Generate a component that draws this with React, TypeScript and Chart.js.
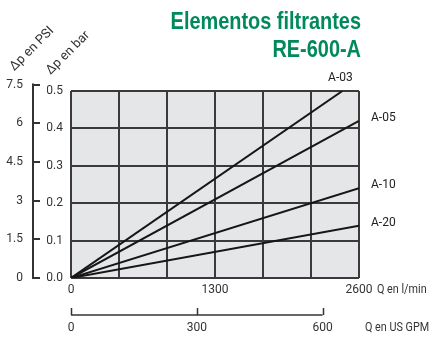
import React, { useEffect, useRef } from 'react';
import { Chart, registerables } from 'chart.js';

Chart.register(...registerables);

// ---- data ----
const seriesNames = ['A-03', 'A-05', 'A-10', 'A-20'];
const seriesStartFlow = [0, 0, 0, 0];
const seriesStartDp = [0, 0, 0, 0];
const seriesEndFlow = [2450, 2600, 2600, 2600]; // l/min
const seriesEndDp = [0.5, 0.42, 0.24, 0.14]; // bar

const flowGrid = [0, 433.33, 866.67, 1300, 1733.33, 2166.67, 2600];
const flowLabels = [0, 1300, 2600];
const gpmTicks = [0, 300, 600];
const barTicks = [0, 0.1, 0.2, 0.3, 0.4, 0.5];
const psiTicks = [0, 1.5, 3, 4.5, 6, 7.5];

const titleLines = ['Elementos filtrantes', 'RE-600-A'];
const flowUnit = 'Q en l/min';
const gpmUnit = 'Q en US GPM';
const psiTitle = 'Δp en PSI';
const barTitle = 'Δp en bar';

const LPM_PER_GPM = 3.78541;
const PSI_PER_BAR = 14.5;
const FLOW_MAX = 2600;
const BAR_MAX = 0.5;

const TEXT = '#333333';
const GRID = '#3a3a3c';
const GREEN = '#008a5c';
const FONT = 'Roboto, "Liberation Sans", sans-serif';

const decor = {
  id: 'decor',
  beforeDraw(chart: any) {
    const { ctx, chartArea: a } = chart;
    ctx.save();
    ctx.fillStyle = '#ffffff';
    ctx.fillRect(0, 0, chart.width, chart.height);
    ctx.fillStyle = '#e5e6e8';
    ctx.fillRect(a.left, a.top, a.right - a.left, a.bottom - a.top);
    ctx.restore();
  },
  afterDraw(chart: any) {
    const { ctx, chartArea: a } = chart;
    ctx.save();

    // Title (condensed bold look: Liberation Sans Bold squeezed horizontally)
    ctx.save();
    ctx.fillStyle = GREEN;
    ctx.font = 'bold 24px "Liberation Sans", Arial, sans-serif';
    ctx.textAlign = 'right';
    ctx.textBaseline = 'alphabetic';
    ctx.translate(a.right + 2, 0);
    ctx.scale(0.83, 1);
    ctx.fillText(titleLines[0], 0, 29);
    ctx.fillText(titleLines[1], 0, 57);
    ctx.restore();

    // PSI axis line with inward ticks
    const y2 = chart.scales.y2;
    const px = 33;
    ctx.strokeStyle = TEXT;
    ctx.lineWidth = 2;
    ctx.beginPath();
    ctx.moveTo(px, y2.getPixelForValue(psiTicks[0]) + 1);
    ctx.lineTo(px, y2.getPixelForValue(psiTicks[psiTicks.length - 1]) - 1);
    ctx.stroke();
    psiTicks.forEach((v) => {
      const y = Math.round(y2.getPixelForValue(v));
      ctx.beginPath();
      ctx.moveTo(px - 1, y);
      ctx.lineTo(px + 7, y);
      ctx.stroke();
    });

    // GPM axis line with upward ticks
    const x2 = chart.scales.x2;
    const gy = 315;
    ctx.lineWidth = 1.5;
    ctx.beginPath();
    ctx.moveTo(x2.getPixelForValue(gpmTicks[0]), gy);
    ctx.lineTo(x2.getPixelForValue(gpmTicks[gpmTicks.length - 1]), gy);
    ctx.stroke();
    gpmTicks.forEach((v) => {
      const x = Math.round(x2.getPixelForValue(v)) + 0.5;
      ctx.beginPath();
      ctx.moveTo(x, gy);
      ctx.lineTo(x, gy - 7);
      ctx.stroke();
    });

    // Unit labels (slightly condensed)
    ctx.fillStyle = TEXT;
    ctx.font = '12px ' + FONT;
    ctx.textAlign = 'left';
    ctx.textBaseline = 'middle';
    const squeezed = (t: string, x: number, y: number) => {
      ctx.save();
      ctx.translate(x, y);
      ctx.scale(0.9, 1);
      ctx.fillText(t, 0, 0);
      ctx.restore();
    };
    squeezed(flowUnit, a.right + 18, 290);
    squeezed(gpmUnit, a.right + 6, 328);

    // Rotated axis titles
    ctx.font = '13px ' + FONT;
    ctx.textAlign = 'center';
    ctx.textBaseline = 'middle';
    const rot = (t: string, cx: number, cy: number) => {
      ctx.save();
      ctx.translate(cx, cy);
      ctx.rotate(-Math.PI / 4);
      ctx.fillText(t, 0, 0);
      ctx.restore();
    };
    rot(psiTitle, 32, 49);
    rot(barTitle, 68, 53);

    // Series labels
    ctx.font = '12px ' + FONT;
    ctx.fillStyle = '#222';
    chart.data.datasets.forEach((ds: any, i: number) => {
      const meta = chart.getDatasetMeta(i);
      const last = meta.data[meta.data.length - 1];
      if (last.x < a.right - 2) {
        ctx.textAlign = 'center';
        ctx.textBaseline = 'middle';
        ctx.fillText(ds.label, last.x - 2, last.y - 13);
      } else {
        ctx.textAlign = 'left';
        ctx.textBaseline = 'middle';
        ctx.fillText(ds.label, a.right + 12, last.y - 3);
      }
    });

    ctx.restore();
  },
};

export default function App() {
  const ref = useRef<HTMLCanvasElement>(null);

  useEffect(() => {
    document.body.style.margin = '0';
    const canvas = ref.current;
    if (!canvas) return;

    const datasets = seriesNames.map((name, i) => ({
      label: name,
      data: [
        { x: seriesStartFlow[i], y: seriesStartDp[i] },
        { x: seriesEndFlow[i], y: seriesEndDp[i] },
      ],
      borderColor: '#161616',
      borderWidth: 2,
      pointRadius: 0,
      tension: 0,
      fill: false,
    }));

    const tickFont = { family: FONT, size: 12 };

    const chart = new Chart(canvas, {
      type: 'line',
      data: { datasets },
      options: {
        animation: false,
        responsive: false,
        events: [],
        layout: { padding: { left: 0, right: 71, top: 91, bottom: 0 } },
        plugins: { legend: { display: false }, tooltip: { enabled: false }, title: { display: false } },
        scales: {
          x: {
            type: 'linear',
            position: 'bottom',
            min: 0,
            max: FLOW_MAX,
            weight: 0,
            afterBuildTicks: (s: any) => { s.ticks = flowGrid.map((v) => ({ value: v })); },
            afterFit: (s: any) => { s.height = 20; },
            ticks: {
              autoSkip: false,
              maxRotation: 0,
              padding: 5,
              color: TEXT,
              font: tickFont,
              callback: (v: any) => {
                const hit = flowLabels.find((f) => Math.abs(f - Number(v)) < 1);
                return hit === undefined ? '' : String(hit);
              },
            },
            grid: { color: GRID, lineWidth: 2, drawTicks: false },
            border: { display: false },
          },
          x2: {
            type: 'linear',
            position: 'bottom',
            min: 0,
            max: FLOW_MAX / LPM_PER_GPM,
            weight: 1,
            afterBuildTicks: (s: any) => { s.ticks = gpmTicks.map((v) => ({ value: v })); },
            afterFit: (s: any) => { s.height = 44; },
            ticks: { autoSkip: false, maxRotation: 0, padding: 23, color: TEXT, font: tickFont },
            grid: { display: false, drawTicks: false },
            border: { display: false },
          },
          y: {
            type: 'linear',
            position: 'left',
            min: 0,
            max: BAR_MAX,
            weight: 0,
            afterBuildTicks: (s: any) => { s.ticks = barTicks.map((v) => ({ value: v })); },
            afterFit: (s: any) => { s.width = 24; },
            ticks: {
              autoSkip: false,
              padding: 8,
              color: TEXT,
              font: tickFont,
              callback: (v: any) => Number(v).toFixed(1),
            },
            grid: { color: GRID, lineWidth: 2, drawTicks: false },
            border: { display: false },
          },
          y2: {
            type: 'linear',
            position: 'left',
            min: 0,
            max: BAR_MAX * PSI_PER_BAR,
            weight: 1,
            afterBuildTicks: (s: any) => { s.ticks = psiTicks.map((v) => ({ value: v })); },
            afterFit: (s: any) => { s.width = 47; },
            ticks: {
              autoSkip: false,
              padding: 24,
              color: TEXT,
              font: tickFont,
              callback: (v: any) => String(v),
            },
            grid: { display: false, drawTicks: false },
            border: { display: false },
          },
        },
      },
      plugins: [decor],
    } as any);

    return () => chart.destroy();
  }, []);

  return (
    <div style={{ width: 430, height: 342 }}>
      <canvas ref={ref} width={430} height={342} style={{ display: 'block' }} />
    </div>
  );
}
